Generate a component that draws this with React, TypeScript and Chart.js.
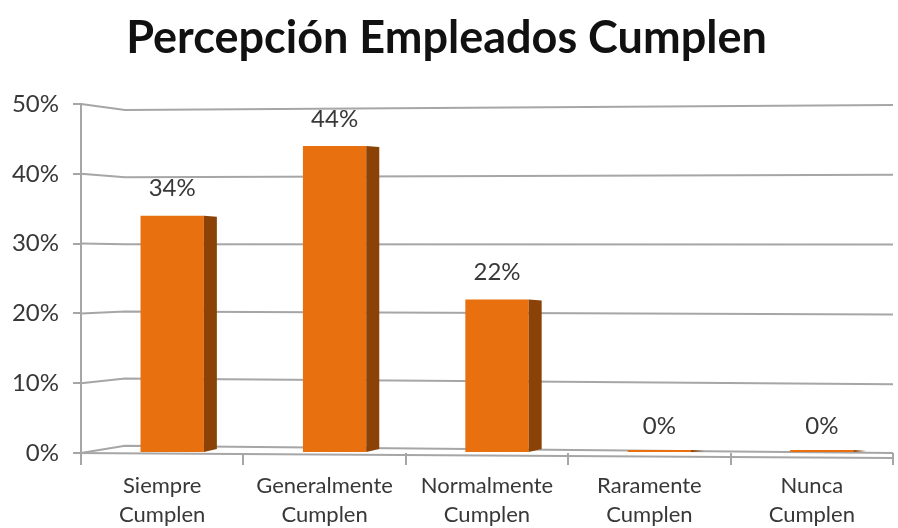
import React, { useEffect, useRef } from "react";
import { Chart, registerables } from "chart.js";

Chart.register(...registerables);

const titleText = "Percepción Empleados Cumplen";
const categories: string[][] = [
  ["Siempre", "Cumplen"],
  ["Generalmente", "Cumplen"],
  ["Normalmente", "Cumplen"],
  ["Raramente", "Cumplen"],
  ["Nunca", "Cumplen"],
];
const values: number[] = [34, 44, 22, 0, 0];
const yMin = 0;
const yMax = 50;
const yStep = 10;

const FRONT = "#E8700F";
const SIDE = "#8A4206";
const GRID = "#A6A6A6";
const TEXT = "#383838";
const FONT = "Lato, 'Liberation Sans', sans-serif";

const DEPTH_SHIFT = 10;
const SIDE_W = 13;
const WALL_DEPTH = 44;
const WALL_SHRINK = 0.962;
const WALL_CENTER = 0.452;
const FLOOR_DROP = 5;

// perspective walls: left side wall + back wall grid lines, and the floor front edge
const walls = {
  id: "walls",
  beforeDatasetsDraw(chart: any) {
    const ctx = chart.ctx;
    const { left, right, top, bottom } = chart.chartArea;
    const y = chart.scales.y;
    const c = top + (bottom - top) * WALL_CENTER;
    ctx.save();
    ctx.strokeStyle = GRID;
    ctx.lineWidth = 2;
    y.ticks.forEach((t: any) => {
      const yF = y.getPixelForValue(t.value);
      const yB = c + (yF - c) * WALL_SHRINK;
      ctx.beginPath();
      ctx.moveTo(left, yF);
      ctx.lineTo(left + WALL_DEPTH, yB);
      ctx.lineTo(right, t.value === yMin ? yF : yF + 1);
      ctx.stroke();
    });
    // floor front edge
    ctx.beginPath();
    ctx.moveTo(left - 8, bottom);
    ctx.lineTo(right, bottom + FLOOR_DROP);
    ctx.stroke();
    ctx.restore();
  },
};

const bars3d = {
  id: "bars3d",
  beforeDatasetsDraw(chart: any) {
    chart.ctx.save();
    chart.ctx.translate(DEPTH_SHIFT, 0);
  },
  afterDatasetsDraw(chart: any) {
    const ctx = chart.ctx;
    const meta = chart.getDatasetMeta(0);
    const yScale = chart.scales.y;
    meta.data.forEach((bar: any, i: number) => {
      const { x, y, base, width } = bar.getProps(["x", "y", "base", "width"], true);
      const r = x + width / 2;
      ctx.fillStyle = SIDE;
      ctx.beginPath();
      ctx.moveTo(r, y);
      ctx.lineTo(r + SIDE_W, y + 1);
      ctx.lineTo(r + SIDE_W, Math.max(y + 1, base - 3));
      ctx.lineTo(r, base);
      ctx.closePath();
      ctx.fill();
      ctx.fillStyle = TEXT;
      ctx.font = `24px ${FONT}`;
      ctx.textAlign = "center";
      ctx.textBaseline = "middle";
      ctx.fillText(`${values[i]}%`, x, yScale.getPixelForValue(values[i]) - 27);
    });
    ctx.restore();
  },
};

export default function App() {
  const ref = useRef<HTMLCanvasElement | null>(null);
  useEffect(() => {
    if (!ref.current) return;
    const chart = new Chart(ref.current, {
      type: "bar",
      data: {
        labels: categories,
        datasets: [
          {
            data: values,
            backgroundColor: FRONT,
            borderWidth: 0,
            barPercentage: 0.39,
            categoryPercentage: 1,
            minBarLength: 3,
          },
        ],
      },
      options: {
        animation: false,
        responsive: true,
        maintainAspectRatio: false,
        layout: { padding: { left: 0, right: 5, top: 0, bottom: 0 } },
        plugins: {
          legend: { display: false },
          tooltip: { enabled: false },
          title: {
            display: true,
            text: titleText,
            color: "#111111",
            font: { family: FONT, size: 45, weight: "bold", lineHeight: 1.2 },
            padding: { top: 11, bottom: 39 },
          },
        },
        scales: {
          x: {
            grid: {
              display: true,
              drawOnChartArea: false,
              drawTicks: true,
              tickLength: 12,
              color: GRID,
              lineWidth: 2,
            },
            border: { display: false },
            ticks: {
              color: TEXT,
              font: { family: FONT, size: 22, lineHeight: 1.32 },
              padding: 6,
              maxRotation: 0,
              autoSkip: false,
            },
            afterFit(scale: any) {
              scale.height = 75;
            },
          },
          y: {
            min: yMin,
            max: yMax,
            grid: {
              color: GRID,
              lineWidth: 2,
              drawOnChartArea: false,
              drawTicks: true,
              tickLength: 8,
            },
            border: { display: true, color: GRID, width: 2 },
            ticks: {
              stepSize: yStep,
              color: TEXT,
              font: { family: FONT, size: 24 },
              padding: 14,
              callback: (v: any) => `${v}%`,
            },
            afterFit(scale: any) {
              scale.width = 81;
            },
          },
        },
      },
      plugins: [walls, bars3d],
    });
    return () => chart.destroy();
  }, []);
  return (
    <div style={{ position: "absolute", left: 0, top: 0, width: 898, height: 528, background: "#fff" }}>
      <canvas ref={ref} />
    </div>
  );
}
